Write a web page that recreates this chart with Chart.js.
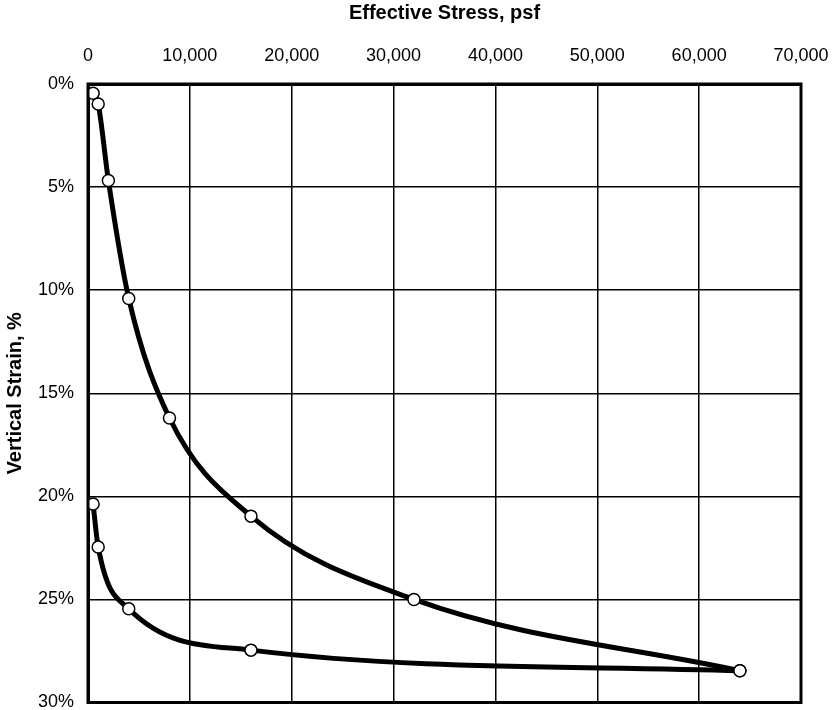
<!DOCTYPE html>
<html>
<head>
<meta charset="utf-8">
<script src="https://cdn.jsdelivr.net/npm/chart.js@4"></script>
<style>
  html, body { margin: 0; padding: 0; background: #fff; }
  #wrap { width: 834px; height: 710px; }
</style>
</head>
<body>
<div id="wrap"><canvas id="consolidation"></canvas></div>
<script>
// Loading branch (stress in psf, strain in %)
const loadStress = [500, 1000, 2000, 4000, 8000, 16000, 32000, 64000];
const loadStrain = [0.45, 0.97, 4.68, 10.4, 16.2, 20.96, 25.0, 28.46];

// Unloading branch, listed from low to high stress
const unloadStress = [500, 1000, 4000, 16000, 64000];
const unloadStrain = [20.37, 22.46, 25.45, 27.46, 28.46];

const xTicks = [0, 10000, 20000, 30000, 40000, 50000, 60000, 70000];
const yTicks = [0, 5, 10, 15, 20, 25, 30];

const toPoints = (xs, ys) => xs.map((x, i) => ({ x: x, y: ys[i] }));

const fontFamily = '"Liberation Sans", Arial, Helvetica, sans-serif';

const curveStyle = {
    borderColor: '#000',
    borderWidth: 5,
    pointRadius: 6,
    pointBackgroundColor: '#fff',
    pointBorderColor: '#000',
    pointBorderWidth: 1.5,
    cubicInterpolationMode: 'monotone',
    showLine: true,
    fill: false
};

// thick frame around the plot area (right and bottom sides have no axis)
const frame = {
    id: 'frame',
    afterDatasetsDraw(chart) {
        const a = chart.chartArea;
        const c = chart.ctx;
        c.save();
        c.strokeStyle = '#000';
        c.lineWidth = 3;
        c.strokeRect(a.left, a.top, a.right - a.left, a.bottom - a.top);
        c.restore();
    }
};

const ctx = document.getElementById('consolidation').getContext('2d');

new Chart(ctx, {
    type: 'scatter',
    data: {
        datasets: [
            Object.assign({ label: 'Loading', data: toPoints(loadStress, loadStrain) }, curveStyle),
            Object.assign({ label: 'Unloading', data: toPoints(unloadStress, unloadStrain) }, curveStyle)
        ]
    },
    plugins: [frame],
    options: {
        responsive: true,
        maintainAspectRatio: false,
        animation: false,
        layout: { padding: { left: 0, right: 33, top: 0, bottom: 6 } },
        plugins: {
            legend: { display: false },
            tooltip: { enabled: false }
        },
        scales: {
            x: {
                type: 'linear',
                position: 'top',
                min: 0,
                max: 70000,
                afterBuildTicks: scale => { scale.ticks = xTicks.map(v => ({ value: v })); },
                afterFit: scale => {
                    scale.height = 84;
                    scale.paddingLeft = 0;
                    scale.paddingRight = 0;
                },
                ticks: {
                    color: '#000',
                    font: { family: fontFamily, size: 18 },
                    padding: 17,
                    maxRotation: 0,
                    callback: v => v.toLocaleString('en-US')
                },
                grid: { color: '#000', lineWidth: 1.5, drawTicks: false },
                border: { color: '#000', width: 3 },
                title: {
                    display: true,
                    text: 'Effective Stress, psf',
                    color: '#000',
                    font: { family: fontFamily, size: 20, weight: 'bold' },
                    padding: { top: 1, bottom: 4 }
                }
            },
            y: {
                type: 'linear',
                reverse: true,
                min: 0,
                max: 30,
                afterBuildTicks: scale => { scale.ticks = yTicks.map(v => ({ value: v })); },
                afterFit: scale => {
                    scale.width = 88;
                    scale.paddingTop = 0;
                    scale.paddingBottom = 0;
                },
                ticks: {
                    color: '#000',
                    font: { family: fontFamily, size: 18 },
                    padding: 14,
                    callback: v => v + '%'
                },
                grid: { color: '#000', lineWidth: 1.5, drawTicks: false },
                border: { color: '#000', width: 3 },
                title: {
                    display: true,
                    text: 'Vertical Strain, %',
                    color: '#000',
                    font: { family: fontFamily, size: 20, weight: 'bold' },
                    padding: { top: 3, bottom: 4 }
                }
            }
        }
    }
});
</script>
</body>
</html>
